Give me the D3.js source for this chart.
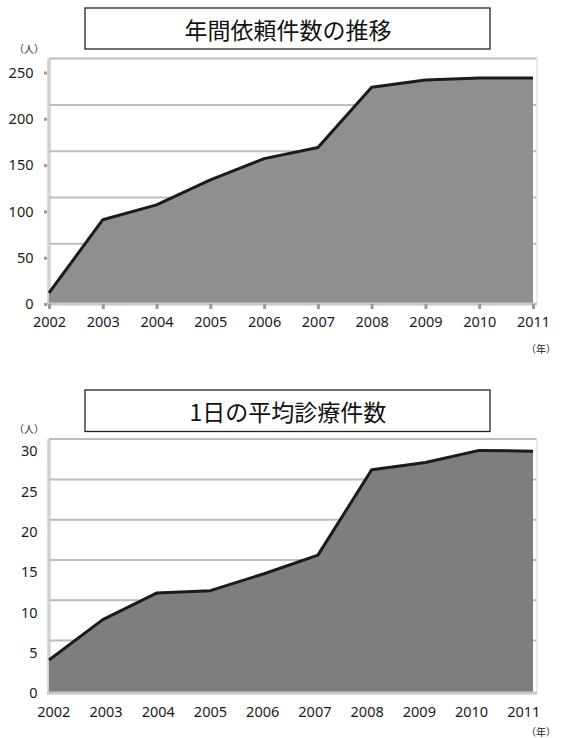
<!DOCTYPE html>
<html lang="ja">
<head>
<meta charset="utf-8">
<script src="https://cdn.jsdelivr.net/npm/d3@7"></script>
<style>
  html, body { margin: 0; padding: 0; background: #fff; }
  svg { display: block; }
  .num { font-family: "Noto Sans", "Open Sans", sans-serif; font-size: 14.5px; fill: #1a1a1a; }
  .jp { font-family: "Noto Sans CJK JP", sans-serif; }
</style>
</head>
<body>
<svg id="chart" width="563" height="738"></svg>
<script>
// Years on the horizontal axis (shared by both panels)
const years = ["2002", "2003", "2004", "2005", "2006", "2007", "2008", "2009", "2010", "2011"];

// Panel 1: annual requests (people)
const requestsTitle = "年間依頼件数の推移";
const requestsValues = [12, 91, 107, 134, 157, 169, 234, 242, 244, 244];
const requestsTicks = [0, 50, 100, 150, 200, 250];
const requestsGrid = [65, 115, 165, 215, 265];

// Panel 2: average consultations per day (people)
const dailyTitle = "1日の平均診療件数";
const dailyValues = [4.1, 9.1, 12.4, 12.7, 14.8, 17.1, 27.7, 28.6, 30.1, 30.0];
const dailyTicks = [0, 5, 10, 15, 20, 25, 30];
const dailyGrid = [6.5, 11.5, 16.5, 21.5, 26.5, 31.5];

const unitY = "（人）";
const unitX = "（年）";

const svg = d3.select("#chart");

function drawPanel(p) {
  const g = svg.append("g");

  const x = d3.scalePoint().domain(years).range([49, 533]);
  const xLabel = d3.scalePoint().domain(years).range(p.labelRange);
  const y = d3.scaleLinear().domain(p.domain).range(p.yRange);

  // title box
  g.append("rect")
    .attr("x", 85).attr("y", p.boxTop)
    .attr("width", 405).attr("height", p.boxHeight)
    .attr("fill", "#fff").attr("stroke", "#222").attr("stroke-width", 1.3);
  g.append("text").attr("class", "jp")
    .attr("x", 288).attr("y", p.boxTop + p.boxHeight / 2)
    .attr("text-anchor", "middle").attr("dominant-baseline", "central")
    .attr("font-size", 23).attr("fill", "#111")
    .text(p.title);

  // unit labels
  g.append("text").attr("class", "jp")
    .attr("x", 29).attr("y", p.unitYPos)
    .attr("text-anchor", "middle").attr("dominant-baseline", "central")
    .attr("font-size", 10).attr("fill", "#222").text(unitY);
  g.append("text").attr("class", "jp")
    .attr("x", 541).attr("y", p.unitXPos)
    .attr("text-anchor", "middle").attr("dominant-baseline", "central")
    .attr("font-size", 10).attr("fill", "#222").text(unitX);

  // plot frame: left edge
  g.append("line")
    .attr("x1", 49).attr("x2", 49)
    .attr("y1", y(p.grid[p.grid.length - 1])).attr("y2", y(0))
    .attr("stroke", "#d2d2d2").attr("stroke-width", 3.5);

  // horizontal grid lines
  g.append("g").selectAll("line").data(p.grid).join("line")
    .attr("x1", 49).attr("x2", 537)
    .attr("y1", d => y(d)).attr("y2", d => y(d))
    .attr("stroke", "#bdbdbd").attr("stroke-width", 2);

  // faint right edge of the frame
  g.append("line")
    .attr("x1", 537).attr("x2", 537)
    .attr("y1", y(p.grid[p.grid.length - 1])).attr("y2", y(0))
    .attr("stroke", "#ededed").attr("stroke-width", 2);

  // area and its outline
  const area = d3.area()
    .x((d, i) => x(years[i]))
    .y0(y(0))
    .y1(d => y(d));
  const line = d3.line()
    .x((d, i) => x(years[i]))
    .y(d => y(d));

  g.append("path").datum(p.values)
    .attr("d", area).attr("fill", p.fill);
  g.append("path").datum(p.values)
    .attr("d", line).attr("fill", "none")
    .attr("stroke", "#1b1b1b").attr("stroke-width", 3)
    .attr("stroke-linejoin", "round");

  // baseline
  g.append("line")
    .attr("x1", 47).attr("x2", 537)
    .attr("y1", y(0)).attr("y2", y(0))
    .attr("stroke", "#c8c8c8").attr("stroke-width", 3);

  // y axis
  const yAxis = g.append("g")
    .attr("transform", "translate(47,0)")
    .call(d3.axisLeft(y).tickValues(p.ticks)
      .tickSize(p.yTickSize).tickPadding(p.yPadding));
  yAxis.select(".domain").remove();
  yAxis.selectAll(".tick line").attr("stroke", "#9a9a9a").attr("stroke-width", 3);
  yAxis.selectAll(".tick text").attr("class", "num").attr("fill", "#1a1a1a")
    .attr("font-size", null).attr("font-family", null);

  // x axis tick marks (on the data positions)
  if (p.xTicks) {
    const xt = g.append("g")
      .attr("transform", `translate(0,${y(0)})`)
      .call(d3.axisBottom(x).tickSize(5).tickFormat(""));
    xt.select(".domain").remove();
    xt.selectAll(".tick line").attr("stroke", "#9a9a9a").attr("stroke-width", 3);
  }

  // x axis labels
  const xAxis = g.append("g")
    .attr("transform", `translate(0,${y(0)})`)
    .call(d3.axisBottom(xLabel).tickSize(0).tickPadding(p.xPadding));
  xAxis.select(".domain").remove();
  xAxis.selectAll(".tick text").attr("class", "num").attr("fill", "#1a1a1a")
    .attr("font-size", null).attr("font-family", null);
}

drawPanel({
  title: requestsTitle,
  values: requestsValues,
  ticks: requestsTicks,
  grid: requestsGrid,
  domain: [0, 250],
  yRange: [304, 72.5],
  labelRange: [49, 533],
  fill: "#8f8f8f",
  boxTop: 8, boxHeight: 41,
  unitYPos: 48, unitXPos: 348,
  yTickSize: 3, yPadding: 10.5,
  xTicks: true, xPadding: 13
});

drawPanel({
  title: dailyTitle,
  values: dailyValues,
  ticks: dailyTicks,
  grid: dailyGrid,
  domain: [0, 30],
  yRange: [693, 451.2],
  labelRange: [53.3, 523.3],
  fill: "#7e7e7e",
  boxTop: 390, boxHeight: 41.5,
  unitYPos: 428, unitXPos: 731,
  yTickSize: 0, yPadding: 9.5,
  xTicks: false, xPadding: 14
});
</script>
</body>
</html>
